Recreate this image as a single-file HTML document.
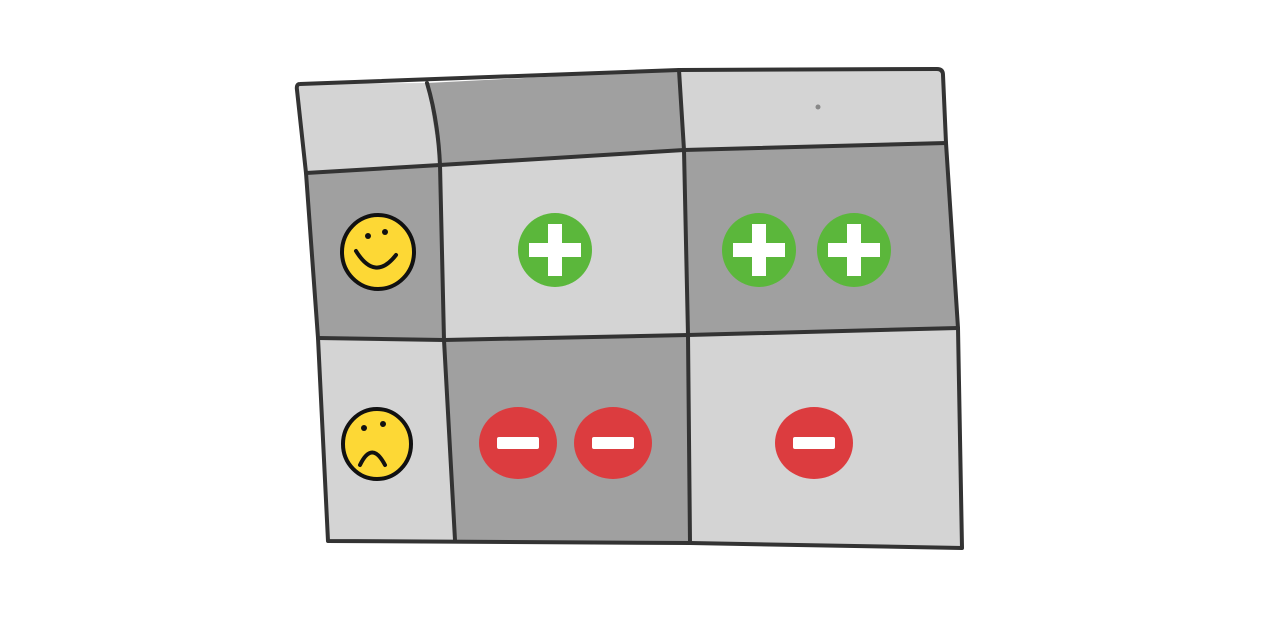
<!DOCTYPE html>
<html><head><meta charset="utf-8"><style>html,body{margin:0;padding:0;background:#fff;width:1280px;height:640px;overflow:hidden}</style></head>
<body>
<svg width="1280" height="640" viewBox="0 0 1280 640" xmlns="http://www.w3.org/2000/svg">
<g stroke="none">
<polygon points="296,84 427,83 440,165 306,173" fill="#d4d4d4"/>
<polygon points="427,83 679,70 684,150 440,165" fill="#a0a0a0"/>
<polygon points="679,70 942,70 946,143 684,150" fill="#d4d4d4"/>
<polygon points="306,173 440,165 444,340 318,338" fill="#a0a0a0"/>
<polygon points="440,165 684,150 688,335 444,340" fill="#d4d4d4"/>
<polygon points="684,150 946,143 958,328 688,335" fill="#a0a0a0"/>
<polygon points="318,338 444,340 455,540 328,541" fill="#d4d4d4"/>
<polygon points="444,340 688,335 690,543 455,540" fill="#a0a0a0"/>
<polygon points="688,335 958,328 962,548 690,543" fill="#d4d4d4"/>
</g>
<g fill="none" stroke="#333" stroke-width="4" stroke-linejoin="round" stroke-linecap="round">
<path d="M300,84 L679,70 L937,69 Q943,69 943,75 L946,143 L958,328 L962,548 L690,543 L328,541 L318,338 L306,173 L297,90 Q296,84 300,84 Z"/>
<polyline points="306,173 440,165 684,150 946,143"/>
<polyline points="318,338 444,340 688,335 958,328"/>
<path d="M427,83 Q438,120 440,165 L444,340 L455,540"/>
<polyline points="679,70 684,150 688,335 690,543"/>
</g>
<circle cx="818" cy="107" r="2.5" fill="#888"/>
<ellipse cx="378" cy="252" rx="36" ry="37" fill="#fdd835" stroke="#111" stroke-width="4"/>
<path d="M356 251 Q375 282 396 255" fill="none" stroke="#111" stroke-width="4" stroke-linecap="round"/>
<circle cx="368" cy="236" r="3" fill="#111"/><circle cx="385" cy="232" r="3" fill="#111"/>
<ellipse cx="377" cy="444" rx="34" ry="35" fill="#fdd835" stroke="#111" stroke-width="4"/>
<path d="M360 465 Q372 440 385 465" fill="none" stroke="#111" stroke-width="4" stroke-linecap="round"/>
<circle cx="364" cy="428" r="3" fill="#111"/><circle cx="383" cy="424" r="3" fill="#111"/>
<g fill="#5bb73b"><circle cx="555" cy="250" r="37"/><circle cx="759" cy="250" r="37"/><circle cx="854" cy="250" r="37"/></g>
<g fill="#fff">
<rect x="529" y="243" width="52" height="14"/><rect x="548" y="224" width="14" height="52"/>
<rect x="733" y="243" width="52" height="14"/><rect x="752" y="224" width="14" height="52"/>
<rect x="828" y="243" width="52" height="14"/><rect x="847" y="224" width="14" height="52"/>
</g>
<g fill="#dc3c3f"><ellipse cx="518" cy="443" rx="39" ry="36"/><ellipse cx="613" cy="443" rx="39" ry="36"/><ellipse cx="814" cy="443" rx="39" ry="36"/></g>
<g fill="#fff"><rect x="497" y="437" width="42" height="12" rx="2"/><rect x="592" y="437" width="42" height="12" rx="2"/><rect x="793" y="437" width="42" height="12" rx="2"/></g>
</svg>
</body></html>
